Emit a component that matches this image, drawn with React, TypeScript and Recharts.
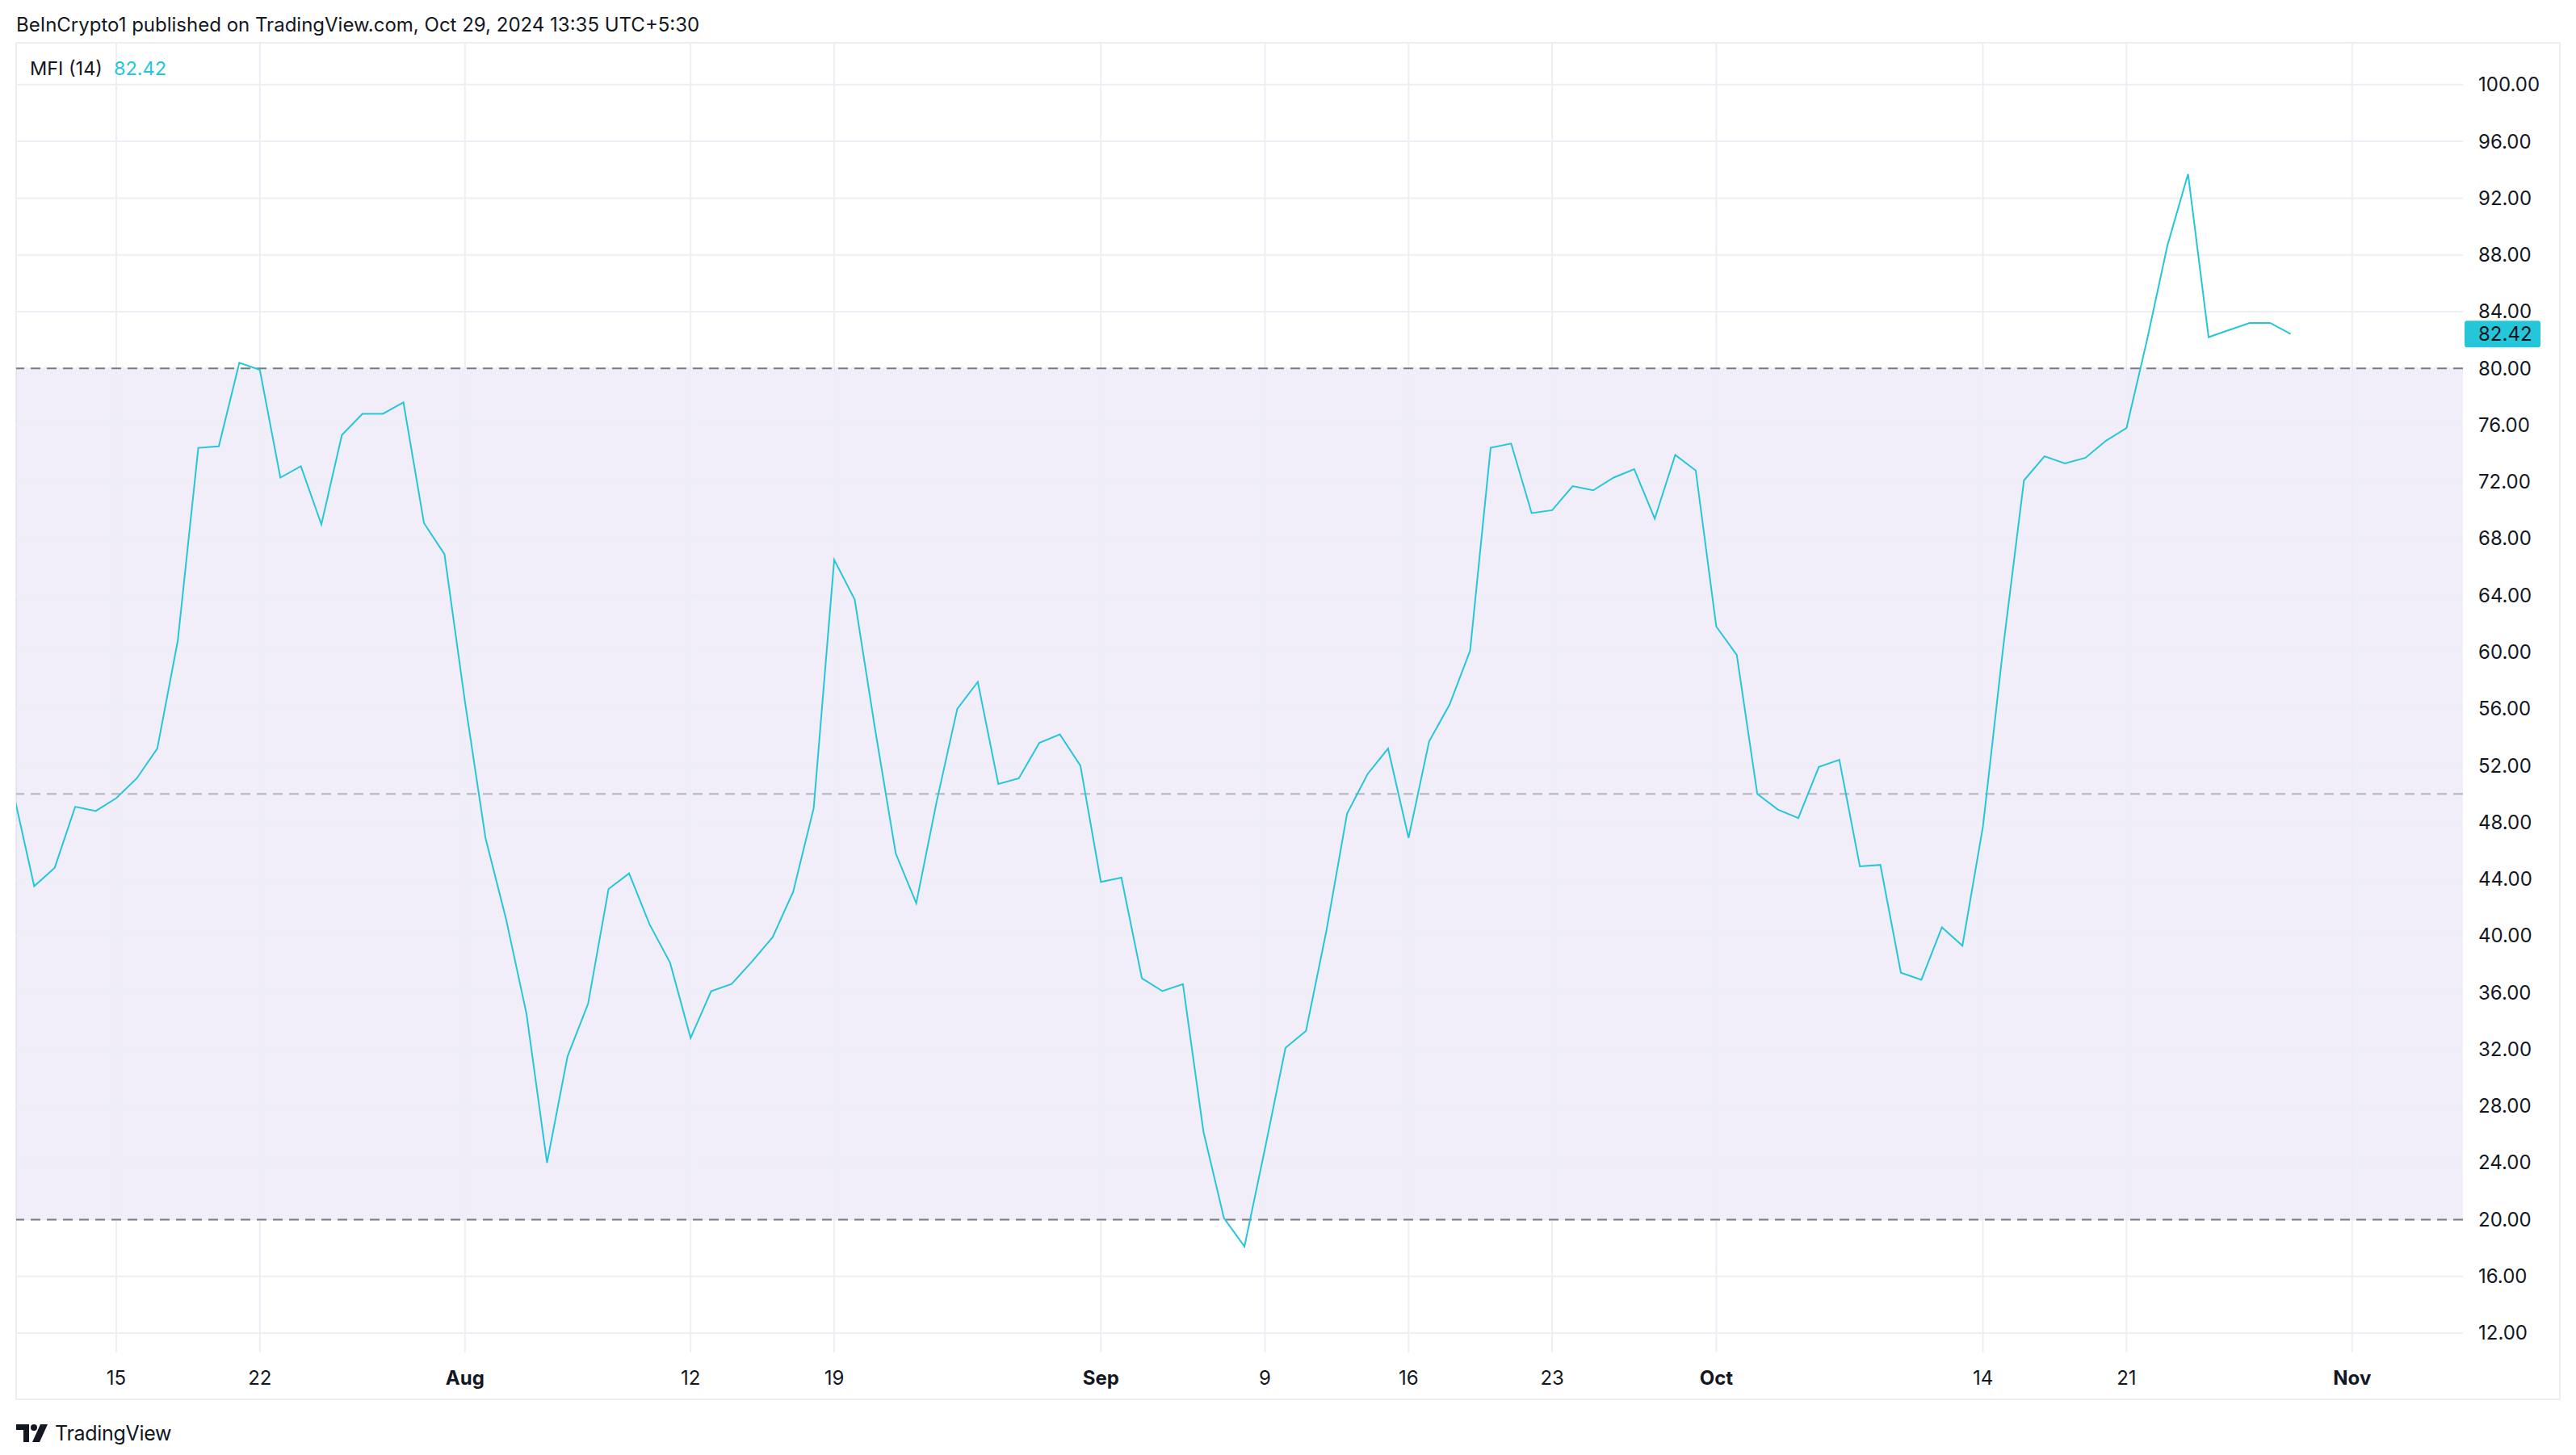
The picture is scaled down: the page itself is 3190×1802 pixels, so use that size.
import React from "react";
import { LineChart, Line, XAxis, YAxis, ReferenceArea, ReferenceLine } from "recharts";

// MFI (14), one value per calendar day from Jul 10 2024 to Oct 29 2024
const MFI_VALUES = [
  50.0, 43.5, 44.8, 49.1, 48.8, 49.7, 51.1, 53.2, 60.8, 74.4,
  74.5, 80.4, 79.9, 72.3, 73.1, 69.0, 75.3, 76.8, 76.8, 77.6,
  69.1, 66.9, 56.5, 46.9, 41.2, 34.5, 24.0, 31.5, 35.2, 43.3,
  44.4, 40.8, 38.1, 32.8, 36.1, 36.6, 38.2, 39.9, 43.1, 49.0,
  66.5, 63.7, 54.5, 45.8, 42.3, 49.5, 56.0, 57.9, 50.7, 51.1,
  53.6, 54.2, 52.0, 43.8, 44.1, 37.0, 36.1, 36.6, 26.2, 20.1,
  18.1, 25.0, 32.1, 33.3, 40.4, 48.6, 51.4, 53.2, 46.9, 53.7,
  56.3, 60.1, 74.4, 74.7, 69.8, 70.0, 71.7, 71.4, 72.3, 72.9,
  69.4, 73.9, 72.8, 61.8, 59.8, 50.0, 48.9, 48.3, 51.9, 52.4,
  44.9, 45.0, 37.4, 36.9, 40.6, 39.3, 47.7, 60.5, 72.1, 73.8,
  73.3, 73.7, 74.9, 75.8, 82.0, 88.7, 93.7, 82.2, 82.7, 83.2,
  83.2, 82.42,
];
const LAST_VALUE = 82.42;

// day offsets from Jul 10 and their labels
const TICK_DAYS = [5, 12, 22, 33, 40, 53, 61, 68, 75, 83, 96, 103, 114];
const TICK_LABELS = ["15", "22", "Aug", "12", "19", "Sep", "9", "16", "23", "Oct", "14", "21", "Nov"];
const MONTH_LABELS = ["Aug", "Sep", "Oct", "Nov"];

const Y_TICKS = [12, 16, 20, 24, 28, 32, 36, 40, 44, 48, 52, 56, 60, 64, 68, 72, 76, 80, 84, 88, 92, 96, 100];

const data = MFI_VALUES.map((v, i) => ({ day: i, mfi: v }));

const FONT = "Inter, 'Noto Sans', sans-serif";
const TEXT = "#131722";
const CYAN = "#26C6DA";
const GRID = "#eceff5";

function XTick({ x, y, payload }: any) {
  const i = TICK_DAYS.indexOf(payload.value);
  const label = TICK_LABELS[i] ?? "";
  const bold = MONTH_LABELS.includes(label);
  return (
    <text x={x} y={y + 32} dy="0.35em" textAnchor="middle" fontSize={24} fontFamily={FONT}
      fontWeight={bold ? 700 : 400} fill={TEXT}>
      {label}
    </text>
  );
}

function YTick({ x, y, payload }: any) {
  return (
    <text x={x + 19} y={y} dy="0.35em" textAnchor="start" fontSize={24} fontFamily={FONT} fill={TEXT}>
      {payload.value.toFixed(2)}
    </text>
  );
}

function PriceTag({ viewBox }: any) {
  if (!viewBox) return null;
  const right = viewBox.x + viewBox.width;
  return (
    <g>
      <rect x={right + 2} y={viewBox.y - 16.5} width={94} height={33} rx={3} fill={CYAN} />
      <text x={right + 19} y={viewBox.y} dy="0.35em" fontSize={24} fontFamily={FONT} fill={TEXT}>
        {LAST_VALUE.toFixed(2)}
      </text>
    </g>
  );
}

function TvLogo() {
  return (
    <svg width={40} height={22} viewBox="0 0 40 22">
      <path d="M0 0 H16 V22 H9 V7 H0 Z" fill={TEXT} />
      <circle cx={22} cy={4} r={4} fill={TEXT} />
      <path d="M30 0 H39 L29 22 H20 Z" fill={TEXT} />
    </svg>
  );
}

export default function App() {
  return (
    <div style={{ position: "relative", width: 3190, height: 1802, background: "#ffffff", fontFamily: FONT, color: TEXT }}>
      <style>{`body{margin:0;background:#ffffff;}`}</style>
      <div style={{ position: "absolute", left: 20, top: 16, fontSize: 24, lineHeight: "30px", whiteSpace: "nowrap" }}>
        BeInCrypto1 published on TradingView.com, Oct 29, 2024 13:35 UTC+5:30
      </div>
      <div style={{ position: "absolute", left: 19, top: 52, width: 3148, height: 1678, border: "2px solid #eceef2", boxSizing: "content-box" }} />
      <div style={{ position: "absolute", left: 0, top: 0 }}>
        <LineChart width={3190} height={1802} data={data} margin={{ top: 53, left: 20, right: 20, bottom: 71 }}>
          <XAxis dataKey="day" type="number" domain={[0.12, 119.4]} allowDataOverflow ticks={TICK_DAYS}
            interval={0} axisLine={false} tickLine={false} tickSize={0} tickMargin={0} height={56} tick={<XTick />} />
          <YAxis orientation="right" type="number" domain={[10.63, 102.95]} allowDataOverflow ticks={Y_TICKS}
            interval={0} axisLine={false} tickLine={false} tickSize={0} tickMargin={0} width={120} tick={<YTick />} />
          {Y_TICKS.map((t) => (
            <ReferenceLine key={"h" + t} y={t} stroke={GRID} strokeWidth={2} />
          ))}
          {TICK_DAYS.map((t) => (
            <ReferenceLine key={"v" + t} x={t} stroke={GRID} strokeWidth={2} />
          ))}
          <ReferenceArea y1={20} y2={80} fill="#7E57C2" fillOpacity={0.1} stroke="none" />
          <ReferenceLine y={80} stroke="#787B86" strokeWidth={2} strokeDasharray="12 8" />
          <ReferenceLine y={50} stroke="#B2B5BE" strokeWidth={2} strokeDasharray="12 8" />
          <ReferenceLine y={20} stroke="#787B86" strokeWidth={2} strokeDasharray="12 8" />
          <Line type="linear" dataKey="mfi" stroke={CYAN} strokeWidth={2} dot={false} isAnimationActive={false} />
          <ReferenceLine y={LAST_VALUE} stroke="none" label={<PriceTag />} />
        </LineChart>
      </div>
      <div style={{ position: "absolute", left: 37, top: 71, fontSize: 23.5, lineHeight: "28px", whiteSpace: "nowrap" }}>
        <span>MFI (14)</span>
        <span style={{ color: CYAN, marginLeft: 14 }}>{LAST_VALUE.toFixed(2)}</span>
      </div>
      <div style={{ position: "absolute", left: 20, top: 1760, display: "flex", alignItems: "center", gap: 8 }}>
        <TvLogo />
        <span style={{ fontSize: 25, fontWeight: 400, letterSpacing: -0.3 }}>TradingView</span>
      </div>
    </div>
  );
}
